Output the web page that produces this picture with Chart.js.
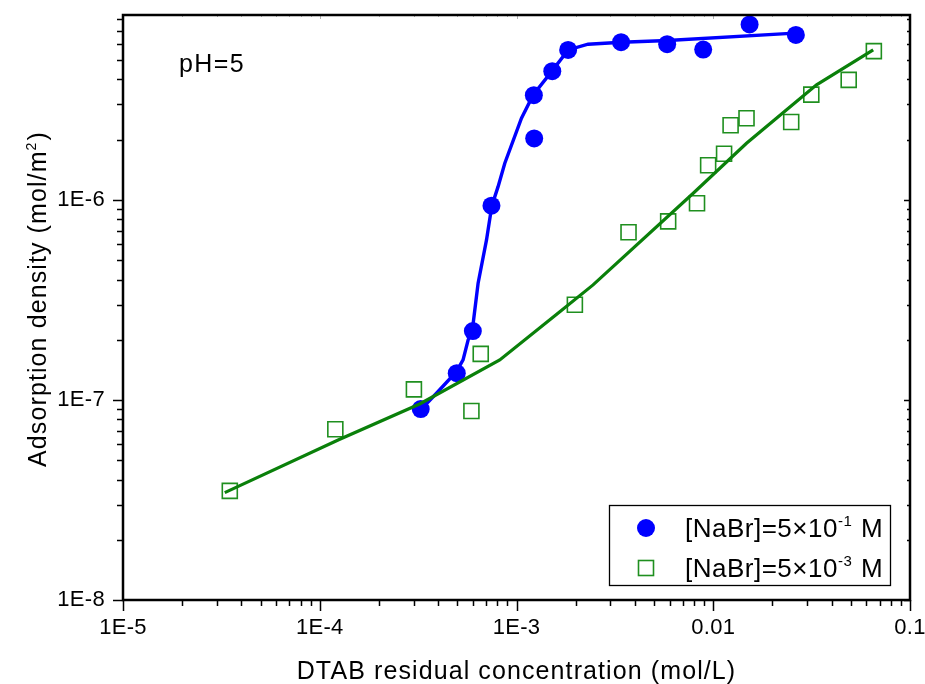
<!DOCTYPE html>
<html>
<head>
<meta charset="utf-8">
<script src="https://cdn.jsdelivr.net/npm/chart.js@4.4.0/dist/chart.umd.min.js"></script>
<style>
  html, body { margin: 0; padding: 0; background: #fff; }
  #wrap { width: 925px; height: 684px; }
</style>
</head>
<body>
<div id="wrap"><canvas id="chart" width="925" height="684"></canvas></div>
<script>
// [NaBr]=5x10^-1 M, measured points
const highX = [3.26e-4, 4.97e-4, 6.0e-4, 7.46e-4, 1.225e-3, 1.23e-3, 1.52e-3, 1.83e-3, 3.40e-3, 5.83e-3, 8.89e-3, 0.0153, 0.0263];
const highY = [9.0e-8, 1.36e-7, 2.21e-7, 9.36e-7, 3.34e-6, 2.03e-6, 4.40e-6, 5.62e-6, 6.14e-6, 6.0e-6, 5.64e-6, 7.54e-6, 6.68e-6];
// fitted curve for the same series
const highFitX = [3.25e-4, 3.92e-4, 4.95e-4, 5.35e-4, 5.68e-4, 5.95e-4, 6.38e-4, 7.04e-4, 7.49e-4, 8.06e-4, 8.72e-4, 1.06e-3, 1.215e-3, 1.507e-3, 1.83e-3, 2.31e-3, 3.42e-3, 5.86e-3, 0.026];
const highFitY = [8.91e-8, 1.08e-7, 1.385e-7, 1.585e-7, 2.0e-7, 2.195e-7, 3.83e-7, 6.31e-7, 9.33e-7, 1.165e-6, 1.525e-6, 2.56e-6, 3.35e-6, 4.38e-6, 5.62e-6, 6.0e-6, 6.14e-6, 6.26e-6, 6.82e-6];

// [NaBr]=5x10^-3 M, measured points
const lowX = [3.49e-5, 1.20e-4, 3.01e-4, 5.90e-4, 6.58e-4, 1.98e-3, 3.71e-3, 5.90e-3, 8.27e-3, 9.42e-3, 0.01135, 0.01225, 0.01476, 0.0249, 0.0315, 0.0488, 0.0655];
const lowY = [3.51e-8, 7.14e-8, 1.13e-7, 8.81e-8, 1.70e-7, 2.99e-7, 6.89e-7, 7.81e-7, 9.62e-7, 1.49e-6, 1.70e-6, 2.36e-6, 2.56e-6, 2.45e-6, 3.36e-6, 3.98e-6, 5.54e-6];
// fitted curve
const lowFitX = [3.29e-5, 1.264e-4, 3.22e-4, 8.22e-4, 1.66e-3, 2.45e-3, 7.91e-3, 0.01476, 0.0236, 0.0335, 0.065];
const lowFitY = [3.44e-8, 6.36e-8, 9.55e-8, 1.585e-7, 2.76e-7, 3.76e-7, 1.08e-6, 1.92e-6, 2.82e-6, 3.76e-6, 5.62e-6];

// axes
const xTickValues = [1e-5, 1e-4, 1e-3, 1e-2, 1e-1];
const xTickLabels = ['1E-5', '1E-4', '1E-3', '0.01', '0.1'];
const yTickValues = [1e-8, 1e-7, 1e-6];
const yTickLabels = ['1E-8', '1E-7', '1E-6'];

const xTitle = 'DTAB residual concentration (mol/L)';
const yTitle = ['Adsorption density (mol/m', '2', ')'];
const legendNames = [['[NaBr]=5×10', '-1', ' M'], ['[NaBr]=5×10', '-3', ' M']];
const noteText = 'pH=5';

const BLUE = '#0000ff';
const GREEN = '#0a800a';
const GREEN_MARK = '#1f8f1f';
const FONT = '"Liberation Sans", Arial, sans-serif';

function pts(xs, ys) {
  return xs.map((x, i) => ({ x: x, y: ys[i] }));
}

// text with one superscript part, drawn left to right from x
function drawParts(ctx, parts, x, y, size, spacing) {
  ctx.letterSpacing = spacing + 'px';
  let cx = x;
  parts.forEach((p, i) => {
    const sup = i === 1;
    ctx.font = (sup ? Math.round(size * 0.58) : size) + 'px ' + FONT;
    ctx.fillText(p, cx, sup ? y - size * 0.42 : y);
    cx += ctx.measureText(p).width + (sup ? 1 : 0);
  });
  return cx - x;
}

function partsWidth(ctx, parts, size, spacing) {
  ctx.letterSpacing = spacing + 'px';
  let w = 0;
  parts.forEach((p, i) => {
    const sup = i === 1;
    ctx.font = (sup ? Math.round(size * 0.58) : size) + 'px ' + FONT;
    w += ctx.measureText(p).width + (sup ? 1 : 0);
  });
  return w;
}

function eachLogTick(min, max, fn) {
  for (let d = Math.floor(Math.log10(min)); d <= Math.ceil(Math.log10(max)); d++) {
    for (let m = 1; m <= 9; m++) {
      const v = m * Math.pow(10, d);
      if (v >= min * 0.9999 && v <= max * 1.0001) fn(v, m === 1);
    }
  }
}

const textSpacing = {
  id: 'textSpacing',
  beforeDraw(chart) {
    chart.ctx.letterSpacing = '0.3px';
  }
};

const frame = {
  id: 'frame',
  afterDatasetsDraw(chart) {
    const { ctx, chartArea: a, scales: { x, y } } = chart;
    ctx.save();
    ctx.strokeStyle = '#000';
    ctx.lineWidth = 1.5;
    ctx.beginPath();
    // bottom ticks outward
    eachLogTick(x.min, x.max, (v, major) => {
      const px = Math.round(x.getPixelForValue(v)) + 0.5;
      ctx.moveTo(px, a.bottom);
      ctx.lineTo(px, a.bottom + (major ? 11 : 6));
    });
    // left ticks outward, right ticks inward
    eachLogTick(y.min, y.max, (v, major) => {
      const py = Math.round(y.getPixelForValue(v)) + 0.5;
      ctx.moveTo(a.left, py);
      ctx.lineTo(a.left - (major ? 10 : 6), py);
      ctx.moveTo(a.right, py);
      ctx.lineTo(a.right - (major ? 6 : 3), py);
    });
    ctx.stroke();

    // faint top ticks
    ctx.strokeStyle = '#b0b0b0';
    ctx.lineWidth = 1;
    ctx.beginPath();
    eachLogTick(x.min, x.max, (v, major) => {
      const px = Math.round(x.getPixelForValue(v)) + 0.5;
      ctx.moveTo(px, a.top);
      ctx.lineTo(px, a.top + (major ? 4 : 2));
    });
    ctx.stroke();

    ctx.strokeStyle = '#000';
    ctx.lineWidth = 2.5;
    ctx.strokeRect(a.left, a.top, a.right - a.left, a.bottom - a.top);

    // axis titles
    ctx.fillStyle = '#000';
    ctx.textBaseline = 'alphabetic';
    ctx.textAlign = 'left';
    ctx.letterSpacing = '1.1px';
    ctx.font = '25px ' + FONT;
    const tw = ctx.measureText(xTitle).width;
    ctx.fillText(xTitle, (a.left + a.right) / 2 - tw / 2, 679);

    ctx.save();
    ctx.translate(46, 299);
    ctx.rotate(-Math.PI / 2);
    const yw = partsWidth(ctx, yTitle, 25, 1.1);
    drawParts(ctx, yTitle, -yw / 2, 0, 25, 1.1);
    ctx.restore();

    // note
    ctx.letterSpacing = '1.4px';
    ctx.font = '25px ' + FONT;
    ctx.fillText(noteText, 179, 72);

    // legend
    ctx.lineWidth = 1.3;
    ctx.strokeRect(609.5, 505.5, 281, 80);
    ctx.fillStyle = BLUE;
    ctx.beginPath();
    ctx.arc(646, 528, 9, 0, Math.PI * 2);
    ctx.fill();
    ctx.strokeStyle = GREEN_MARK;
    ctx.lineWidth = 1.6;
    ctx.strokeRect(638.5, 560.5, 15, 15);
    ctx.fillStyle = '#000';
    drawParts(ctx, legendNames[0], 685, 537, 26, 0.5);
    drawParts(ctx, legendNames[1], 685, 577, 26, 0.5);
    ctx.restore();
  }
};

new Chart(document.getElementById('chart'), {
  type: 'scatter',
  data: {
    datasets: [
      {
        label: 'fit low',
        data: pts(lowFitX, lowFitY),
        showLine: true,
        borderColor: GREEN,
        borderWidth: 3.2,
        pointRadius: 0,
        order: 0
      },
      {
        label: 'low',
        data: pts(lowX, lowY),
        showLine: false,
        pointStyle: 'rect',
        pointRadius: 10.6,
        pointBorderColor: GREEN_MARK,
        pointBorderWidth: 1.6,
        pointBackgroundColor: 'rgba(0,0,0,0)',
        order: 1
      },
      {
        label: 'fit high',
        data: pts(highFitX, highFitY),
        showLine: true,
        borderColor: BLUE,
        borderWidth: 3.4,
        pointRadius: 0,
        order: 2
      },
      {
        label: 'high',
        data: pts(highX, highY),
        showLine: false,
        pointStyle: 'circle',
        pointRadius: 9,
        pointBorderWidth: 0,
        pointBackgroundColor: BLUE,
        pointBorderColor: BLUE,
        order: 3
      }
    ]
  },
  options: {
    responsive: false,
    animation: false,
    devicePixelRatio: 1,
    events: [],
    layout: { padding: { left: 0, right: 15, top: 15, bottom: 0 } },
    plugins: {
      legend: { display: false },
      tooltip: { enabled: false }
    },
    scales: {
      x: {
        type: 'logarithmic',
        min: 1e-5,
        max: 0.1,
        grid: { display: false, drawTicks: false },
        border: { display: false },
        afterBuildTicks: s => { s.ticks = xTickValues.map(v => ({ value: v })); },
        afterFit: s => { s.height = 84; s.paddingLeft = 0; s.paddingRight = 0; },
        ticks: {
          autoSkip: false,
          maxRotation: 0,
          padding: 15,
          color: '#000',
          font: { family: FONT, size: 22 },
          callback: v => xTickLabels[xTickValues.indexOf(v)]
        }
      },
      y: {
        type: 'logarithmic',
        min: 1e-8,
        max: 8.4e-6,
        grid: { display: false, drawTicks: false },
        border: { display: false },
        afterBuildTicks: s => { s.ticks = yTickValues.map(v => ({ value: v })); },
        afterFit: s => { s.width = 123; s.paddingTop = 0; s.paddingBottom = 0; },
        ticks: {
          autoSkip: false,
          padding: 18,
          color: '#000',
          font: { family: FONT, size: 22 },
          callback: v => yTickLabels[yTickValues.indexOf(v)]
        }
      }
    }
  },
  plugins: [textSpacing, frame]
});
</script>
</body>
</html>
